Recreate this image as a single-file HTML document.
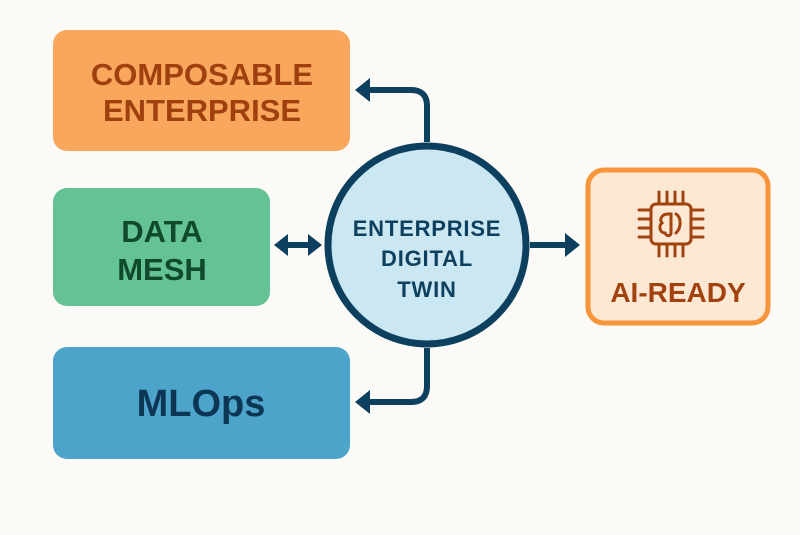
<!DOCTYPE html>
<html><head><style>
html,body{margin:0;padding:0;background:#fbfaf7;}
</style></head><body>
<svg width="800" height="535" xmlns="http://www.w3.org/2000/svg" style="display:block">
<rect width="800" height="535" fill="#fbfaf7"/>
<rect x="53" y="30" width="297" height="121" rx="14" fill="#f8a75c"/>
<text x="202" y="85" text-anchor="middle" font-family="Liberation Sans, sans-serif" font-weight="bold" font-size="31" fill="#a0400f">COMPOSABLE</text>
<text x="202" y="121" text-anchor="middle" font-family="Liberation Sans, sans-serif" font-weight="bold" font-size="31" fill="#a0400f">ENTERPRISE</text>
<rect x="53" y="188" width="217" height="118" rx="14" fill="#65c295"/>
<text x="162" y="242" text-anchor="middle" font-family="Liberation Sans, sans-serif" font-weight="bold" font-size="31" fill="#0f4a2c">DATA</text>
<text x="162" y="280" text-anchor="middle" font-family="Liberation Sans, sans-serif" font-weight="bold" font-size="31" fill="#0f4a2c">MESH</text>
<rect x="53" y="347" width="297" height="112" rx="14" fill="#4ca4cb"/>
<text x="201" y="416" text-anchor="middle" font-family="Liberation Sans, sans-serif" font-weight="bold" font-size="38" fill="#0d3654">MLOps</text>
<rect x="588" y="170" width="180" height="153" rx="16" fill="#fde8d3" stroke="#f7953b" stroke-width="5"/>
<g fill="none" stroke="#a2420f" stroke-width="3" stroke-linecap="round">
<rect x="651" y="204" width="40" height="40" rx="5"/>
<path d="M659 204v-12M667 204v-12M675 204v-12M683 204v-12M659 244v12M667 244v12M675 244v12M683 244v12M651 210h-12M651 219h-12M651 228h-12M651 237h-12M691 210h12M691 219h12M691 228h12M691 237h12"/>
<path d="M668 214c-6 0-9 5-6 9c-4 3-2 10 3 10c2 4 6 3 6 0v-19zM676 214c5 3 6 13 0 19"/>
</g>
<text x="678" y="302" text-anchor="middle" font-family="Liberation Sans, sans-serif" font-weight="bold" font-size="28" fill="#a2420f">AI-READY</text>
<g stroke="#0d3f5f" stroke-width="6" fill="none">
<path d="M427 142V106q0-16-16-16H368"/>
<path d="M427 348V386q0 16-16 16H368"/>
<path d="M286 245H312"/>
<path d="M530 245H566"/>
</g>
<g fill="#0d3f5f">
<path d="M355 90l15-12v24z"/>
<path d="M355 402l15-12v24z"/>
<path d="M274 245l14-11v22z"/>
<path d="M322 245l-14-11v22z"/>
<path d="M580 245l-15-12v24z"/>
</g>
<circle cx="427" cy="245" r="99" fill="#cbe8f2" stroke="#0d3f5f" stroke-width="7"/>
<g font-family="Liberation Sans, sans-serif" font-weight="bold" font-size="22" fill="#0d3f5f" text-anchor="middle" letter-spacing="0.8">
<text x="427" y="236">ENTERPRISE</text>
<text x="427" y="266">DIGITAL</text>
<text x="427" y="297">TWIN</text>
</g>
</svg>
</body></html>
